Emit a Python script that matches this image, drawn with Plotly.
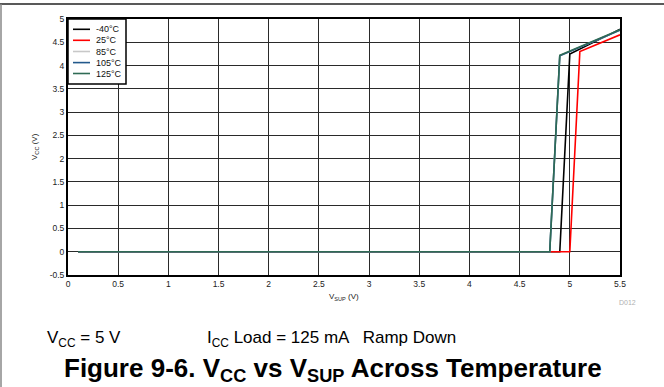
import plotly.graph_objects as go

# ---- data ----
series_names = ["-40°C", "25°C", "85°C", "105°C", "125°C"]
series_colors = ["#000000", "#ff0000", "#c8c8c8", "#23598c", "#2f6b55"]

x_m40 = [0.1, 4.9, 5.0, 5.1, 5.2, 5.3, 5.4, 5.5]
y_m40 = [0.0, 0.0, 4.25, 4.36, 4.46, 4.57, 4.67, 4.78]

x_25 = [0.1, 5.0, 5.1, 5.2, 5.3, 5.4, 5.5]
y_25 = [0.0, 0.0, 4.30, 4.39, 4.48, 4.57, 4.66]

x_85 = [0.1, 4.8, 4.9, 5.0, 5.1, 5.2, 5.3, 5.4, 5.5]
y_85 = [0.0, 0.0, 4.21, 4.30, 4.39, 4.48, 4.57, 4.67, 4.76]

x_105 = [0.1, 4.8, 4.9, 5.0, 5.1, 5.2, 5.3, 5.4, 5.5]
y_105 = [0.0, 0.0, 4.21, 4.30, 4.39, 4.48, 4.57, 4.67, 4.76]

x_125 = [0.1, 4.8, 4.9, 5.0, 5.1, 5.2, 5.3, 5.4, 5.5]
y_125 = [0.0, 0.0, 4.22, 4.31, 4.40, 4.49, 4.58, 4.68, 4.77]

x_ticks = [0, 0.5, 1, 1.5, 2, 2.5, 3, 3.5, 4, 4.5, 5, 5.5]
x_tick_labels = ["0", "0.5", "1", "1.5", "2", "2.5", "3", "3.5", "4", "4.5", "5", "5.5"]
y_ticks = [-0.5, 0, 0.5, 1, 1.5, 2, 2.5, 3, 3.5, 4, 4.5, 5]
y_tick_labels = ["-0.5", "0", "0.5", "1", "1.5", "2", "2.5", "3", "3.5", "4", "4.5", "5"]

xs = [x_m40, x_25, x_85, x_105, x_125]
ys = [y_m40, y_25, y_85, y_105, y_125]

FONT = "Liberation Sans, Arial, sans-serif"

fig = go.Figure()
for name, color, xv, yv in zip(series_names, series_colors, xs, ys):
    fig.add_trace(go.Scatter(x=xv, y=yv, mode="lines", name=name,
                             line=dict(color=color, width=1.6), showlegend=False))

# plot-area geometry (pixels)
L, R, T, B = 68, 44, 19, 112
W, H = 664, 387
pw, ph = W - L - R, H - T - B

def px(xp):
    return (xp - L) / pw

def py(yp):
    return (H - B - yp) / ph

shapes = []
annotations = []

# manual compact legend (top-left, inside plot)
shapes.append(dict(type="rect", xref="paper", yref="paper",
                   x0=px(68), x1=px(126), y0=py(84), y1=py(19),
                   line=dict(color="black", width=1.5), fillcolor="white", layer="above"))
row_y = [29.3, 40.3, 51.5, 62.6, 73.5]
for name, color, ry in zip(series_names, series_colors, row_y):
    shapes.append(dict(type="line", xref="paper", yref="paper",
                       x0=px(73), x1=px(90), y0=py(ry), y1=py(ry),
                       line=dict(color=color, width=1.6), layer="above"))
    annotations.append(dict(xref="paper", yref="paper", x=px(94), y=py(ry),
                            text=name, showarrow=False, xanchor="left", yanchor="middle",
                            font=dict(family=FONT, size=9, color="#111")))

# outer figure border (top dark, left gray)
shapes.append(dict(type="line", xref="paper", yref="paper",
                   x0=px(0), x1=px(664), y0=py(4), y1=py(4),
                   line=dict(color="#222", width=1.5)))
shapes.append(dict(type="line", xref="paper", yref="paper",
                   x0=px(1), x1=px(1), y0=py(4), y1=py(387),
                   line=dict(color="#888", width=1.5)))

# axis titles
annotations.append(dict(xref="paper", yref="paper", x=0.5, y=py(297),
                        text="V<sub>SUP</sub> (V)", showarrow=False,
                        xanchor="center", yanchor="middle",
                        font=dict(family=FONT, size=8, color="#222")))
annotations.append(dict(xref="paper", yref="paper", x=px(35), y=0.5,
                        text="V<sub>CC</sub> (V)", showarrow=False, textangle=-90,
                        xanchor="center", yanchor="middle",
                        font=dict(family=FONT, size=8, color="#222")))
# D012
annotations.append(dict(xref="paper", yref="paper", x=px(627), y=py(302),
                        text="D012", showarrow=False, xanchor="center", yanchor="middle",
                        font=dict(family=FONT, size=7, color="#b0b0b0")))
# condition text
annotations.append(dict(xref="paper", yref="paper", x=px(45), y=py(339),
                        text="V<sub>CC</sub> = 5 V", showarrow=False,
                        xanchor="left", yanchor="middle",
                        font=dict(family=FONT, size=17, color="black")))
annotations.append(dict(xref="paper", yref="paper", x=px(205), y=py(339),
                        text="I<sub>CC</sub> Load = 125 mA   Ramp Down", showarrow=False,
                        xanchor="left", yanchor="middle",
                        font=dict(family=FONT, size=17, color="black")))
# figure caption
annotations.append(dict(xref="paper", yref="paper", x=px(333), y=py(369.5),
                        text="<b>Figure 9-6. V<sub>CC</sub> vs V<sub>SUP</sub> Across Temperature</b>",
                        showarrow=False, xanchor="center", yanchor="middle",
                        font=dict(family=FONT, size=26, color="black")))

axis_common = dict(showline=True, mirror=True, linecolor="black", linewidth=2,
                   showgrid=True, gridcolor="#2a2a2a", gridwidth=1, zeroline=False,
                   ticks="", tickfont=dict(family=FONT, size=8.5, color="#222"))

fig.update_xaxes(range=[0, 5.5], tickvals=x_ticks, ticktext=x_tick_labels, **axis_common)
fig.update_yaxes(range=[-0.5, 5], tickvals=y_ticks, ticktext=y_tick_labels, **axis_common)

fig.update_layout(width=W, height=H, margin=dict(l=L, r=R, t=T, b=B),
                  paper_bgcolor="white", plot_bgcolor="white",
                  shapes=shapes, annotations=annotations, showlegend=False)

fig.write_html("out.html", config={"displayModeBar": False},
               post_script="document.body.style.margin='0';document.body.style.overflow='hidden';")
